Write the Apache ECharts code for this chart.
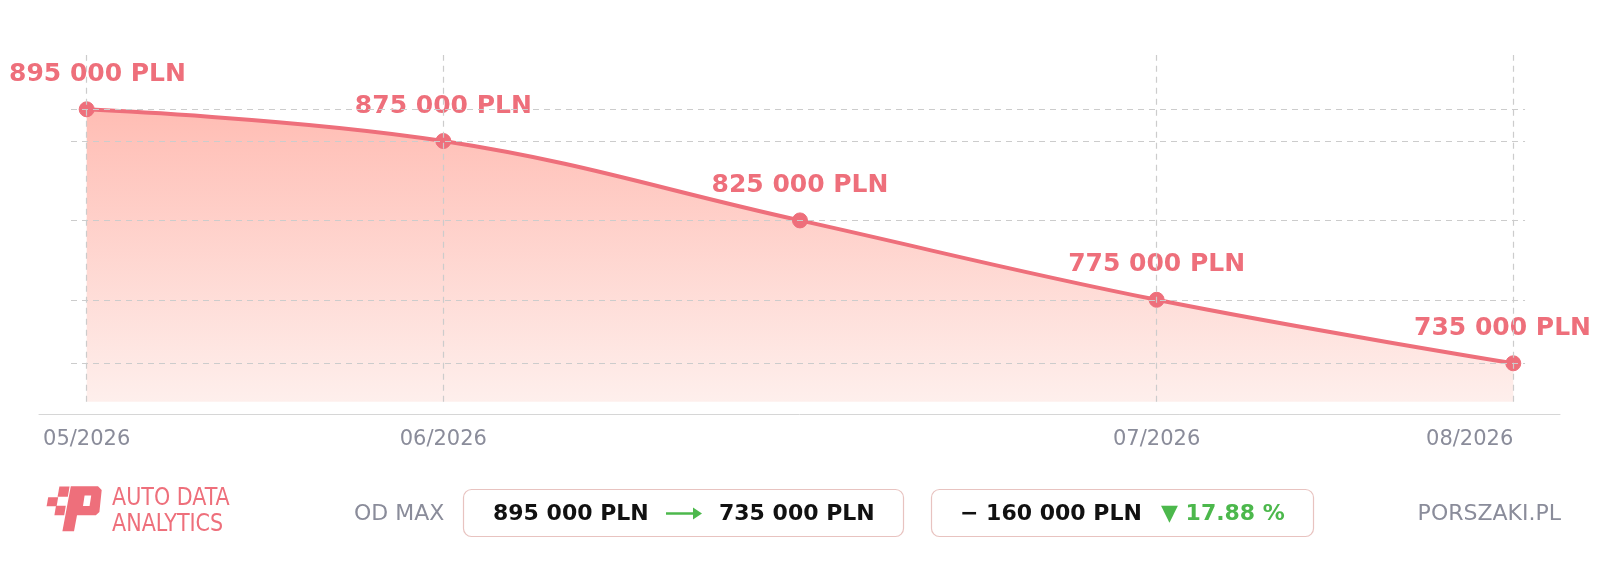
<!DOCTYPE html>
<html>
<head>
<meta charset="utf-8">
<script src="https://cdn.jsdelivr.net/npm/echarts@6/dist/echarts.min.js"></script>
<style>
html,body{margin:0;padding:0;background:#fff;}
#chart{width:1600px;height:569px;}
</style>
</head>
<body>
<div id="chart"></div>
<script>
// ---- data ----
const categories = ['05/2026', '06/2026', '', '07/2026', '08/2026'];
const prices = [895000, 875000, 825000, 775000, 735000];
const currency = 'PLN';
const fromLabel = 'OD MAX';
const brandLines = ['AUTO DATA', 'ANALYTICS'];
const siteLabel = 'PORSZAKI.PL';

// ---- styles ----
const RED = '#EE6F7B';
const GREEN = '#4CB84C';
const GRAY = '#8A8C9A';
const GRID = '#CCCCCC';
const FONT = 'DejaVu Sans';
const LOGO_FONT = '500 25px "Liberation Sans Narrow", "DejaVu Sans Condensed", sans-serif';

function fmt(v) {
  return String(Math.round(v)).replace(/\B(?=(\d{3})+(?!\d))/g, ' ') + ' ' + currency;
}

const first = prices[0];
const last = prices[prices.length - 1];
const diff = first - last;
const pct = (diff / first * 100).toFixed(2);

const points = prices.map((v, i) => [i, v]);
const hLines = prices.map(v => [{ coord: [-0.044, v] }, { coord: [categories.length - 1 + 0.033, v] }]);
const vLines = categories.map((c, i) => c ? { xAxis: i } : null).filter(Boolean);
const labelIdx = categories.map((c, i) => c ? i : null).filter(v => v !== null);

const chart = echarts.init(document.getElementById('chart'), null, { renderer: 'canvas' });

const option = {
  animation: false,
  backgroundColor: '#ffffff',
  grid: { left: 39, right: 40, top: 55, bottom: 167.3, containLabel: false },
  xAxis: {
    type: 'value',
    min: -0.1337,
    max: categories.length - 1 + 0.131,
    offset: 12.6,
    axisLine: { show: true, lineStyle: { color: '#D6D6D6', width: 1 } },
    axisTick: { show: false },
    splitLine: { show: false },
    axisLabel: {
      customValues: labelIdx,
      formatter: v => categories[Math.round(v)] || '',
      alignMaxLabel: 'right',
      color: GRAY,
      fontFamily: FONT,
      fontSize: 21,
      margin: 15
    }
  },
  yAxis: {
    type: 'value',
    min: 710800,
    max: 929200,
    show: false,
    splitLine: { show: false }
  },
  series: [{
    type: 'line',
    data: points,
    smooth: 0.4,
    symbol: 'circle',
    symbolSize: 15,
    itemStyle: { color: RED, borderColor: RED, borderWidth: 1 },
    lineStyle: { color: RED, width: 4 },
    areaStyle: {
      origin: 'start',
      opacity: 1,
      color: new echarts.graphic.LinearGradient(0, 0, 0, 1, [
        { offset: 0, color: '#FFBDB4' },
        { offset: 1, color: '#FEEFEC' }
      ])
    },
    label: {
      show: true,
      position: 'top',
      distance: 14.5,
      formatter: p => fmt(p.value[1]),
      color: RED,
      fontFamily: FONT,
      fontWeight: 'bold',
      fontSize: 25
    },
    labelLayout: function (p) {
      const r = p.labelRect;
      let dx = 0;
      if (r.x < 9) dx = 9 - r.x;
      if (r.x + r.width > 1591) dx = 1591 - (r.x + r.width);
      return { dx: dx };
    },
    markLine: {
      silent: true,
      symbol: 'none',
      label: { show: false },
      lineStyle: { color: GRID, type: [6, 5], width: 1.2 },
      data: hLines.concat(vLines)
    },
    z: 3
  }],
  graphic: [
    // logo squares
    { type: 'polygon', shape: { points: [[59.4, 486.6], [69.6, 486.6], [67.8, 496.8], [57.6, 496.8]] }, style: { fill: RED } },
    { type: 'polygon', shape: { points: [[48.2, 497.2], [58.2, 497.2], [56.6, 506.2], [46.6, 506.2]] }, style: { fill: RED } },
    { type: 'polygon', shape: { points: [[56.0, 505.8], [65.8, 505.8], [64.2, 515.2], [54.4, 515.2]] }, style: { fill: RED } },
    // logo P
    { type: 'polygon', shape: { points: [[70.8, 486.3], [98.0, 486.3], [101.7, 490.0], [99.4, 512.0], [95.8, 515.3], [77.0, 515.3], [74.0, 531.3], [62.4, 531.3]] }, style: { fill: RED } },
    { type: 'polygon', shape: { points: [[84.6, 495.5], [91.2, 495.5], [89.6, 506.0], [83.0, 506.0]] }, style: { fill: '#ffffff' } },
    { type: 'text', x: 112, y: 498, scaleX: 0.92, style: { text: brandLines[0], fill: RED, font: LOGO_FONT, textVerticalAlign: 'middle' } },
    { type: 'text', x: 112, y: 524, scaleX: 0.92, style: { text: brandLines[1], fill: RED, font: LOGO_FONT, textVerticalAlign: 'middle' } },
    // OD MAX
    { type: 'text', x: 354, y: 514, style: { text: fromLabel, fill: GRAY, font: '22px "DejaVu Sans"', textVerticalAlign: 'middle' } },
    // box 1
    { type: 'rect', shape: { x: 463.5, y: 489.5, width: 440, height: 47, r: 8 }, style: { fill: '#fff', stroke: '#E8C3C0', lineWidth: 1.2 } },
    { type: 'text', x: 493, y: 514, style: { text: fmt(first), fill: '#111111', font: 'bold 22px "DejaVu Sans"', textVerticalAlign: 'middle' } },
    { type: 'line', shape: { x1: 666, y1: 513.5, x2: 694, y2: 513.5 }, style: { stroke: GREEN, lineWidth: 2.5 } },
    { type: 'polygon', shape: { points: [[693, 507.5], [702, 513.5], [693, 519.5]] }, style: { fill: GREEN } },
    { type: 'text', x: 719, y: 514, style: { text: fmt(last), fill: '#111111', font: 'bold 22px "DejaVu Sans"', textVerticalAlign: 'middle' } },
    // box 2
    { type: 'rect', shape: { x: 931.5, y: 489.5, width: 382, height: 47, r: 8 }, style: { fill: '#fff', stroke: '#E8C3C0', lineWidth: 1.2 } },
    { type: 'text', x: 960, y: 514, style: { text: '\u2212 ' + fmt(diff), fill: '#111111', font: 'bold 22px "DejaVu Sans"', textVerticalAlign: 'middle' } },
    { type: 'text', x: 1161, y: 514, style: { text: '\u25BC ' + pct + ' %', fill: GREEN, font: 'bold 22px "DejaVu Sans"', textVerticalAlign: 'middle' } },
    // site
    { type: 'text', x: 1561, y: 514, style: { text: siteLabel, fill: GRAY, font: '22px "DejaVu Sans"', textAlign: 'right', textVerticalAlign: 'middle' } }
  ]
};
chart.setOption(option);
</script>
</body>
</html>
